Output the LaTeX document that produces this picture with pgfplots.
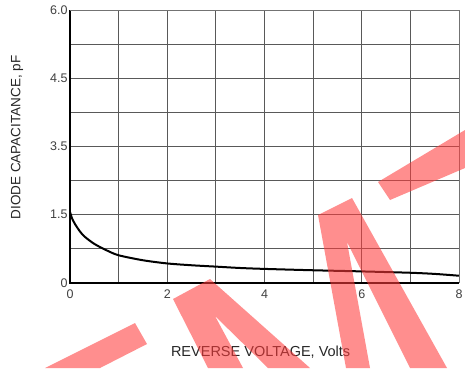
\documentclass[border=0pt]{standalone}
\usepackage{fontspec}
\setmainfont{Liberation Sans}
\usepackage{pgfplots}
\pgfplotsset{compat=1.18}
\definecolor{wm}{RGB}{255,60,60}
\begin{document}
\begin{tikzpicture}[x=1pt,y=1pt]
\useasboundingbox (0,0) rectangle (465,368);
\begin{axis}[
  at={(70pt,85pt)}, anchor=south west,
  scale only axis, width=389pt, height=273pt,
  xmin=0, xmax=8, ymin=0, ymax=6,
  xtick={0,2,4,6,8},
  minor xtick={1,3,5,7},
  ytick={0,1.5,3,4.5,6},
  yticklabels={0,1.5,3.5,4.5,6.0},
  minor ytick={0.75,2.25,3.75,5.25},
  grid=both,
  major grid style={black!65, line width=0.9pt},
  minor grid style={black!65, line width=0.9pt},
  major tick length=0pt, minor tick length=0pt,
  axis line style={draw=none},
  /pgf/number format/assume math mode=true,
  ticklabel style={font=\fontsize{12.5}{14}\selectfont, text=black!75},
  xticklabel style={yshift=-3pt},
  yticklabel style={xshift=1pt},
  xlabel={REVERSE VOLTAGE, Volts},
  ylabel={DIODE CAPACITANCE, pF},
  xlabel style={font=\fontsize{14.5}{16}\selectfont, text=black!85, at={(axis description cs:0.49,-0.253)}, anchor=center},
  ylabel style={font=\fontsize{13.5}{16}\selectfont, text=black!85, at={(axis description cs:-0.136,0.533)}, anchor=center, rotate=0},
  clip=false,
]
\addplot[black, line width=2pt, smooth, tension=0.5] coordinates {
(0,1.56) (0.05,1.40) (0.1,1.30) (0.2,1.14) (0.3,1.02) (0.5,0.86) (0.75,0.72) (1,0.61)
(1.5,0.50) (2,0.43) (2.5,0.39) (3,0.36) (3.5,0.33) (4,0.31) (5,0.28) (6,0.255) (7,0.225) (7.5,0.20) (8,0.16)
};
\draw[black, line width=1.3pt] (axis cs:0,6) -- (axis cs:0,0) -- (axis cs:8,0);
\draw[black!55, line width=0.9pt] (axis cs:0,6) -- (axis cs:8,6) -- (axis cs:8,0);
\end{axis}
\begin{scope}[fill=wm, fill opacity=0.58]
\fill (135,45) -- (147,24) -- (100,0) -- (45,0) -- cycle;
\fill (173,69) -- (210,89) -- (310,0) -- (268,0) -- (215,52) -- (243,0) -- (208,0) -- cycle;
\fill (318,153) -- (352,170) -- (447,0) -- (410,0) -- (347,126) -- (370,0) -- (346,0) -- cycle;
\fill (378,186) -- (465,238) -- (465,200) -- (390,168) -- cycle;
\end{scope}
\end{tikzpicture}
\end{document}
